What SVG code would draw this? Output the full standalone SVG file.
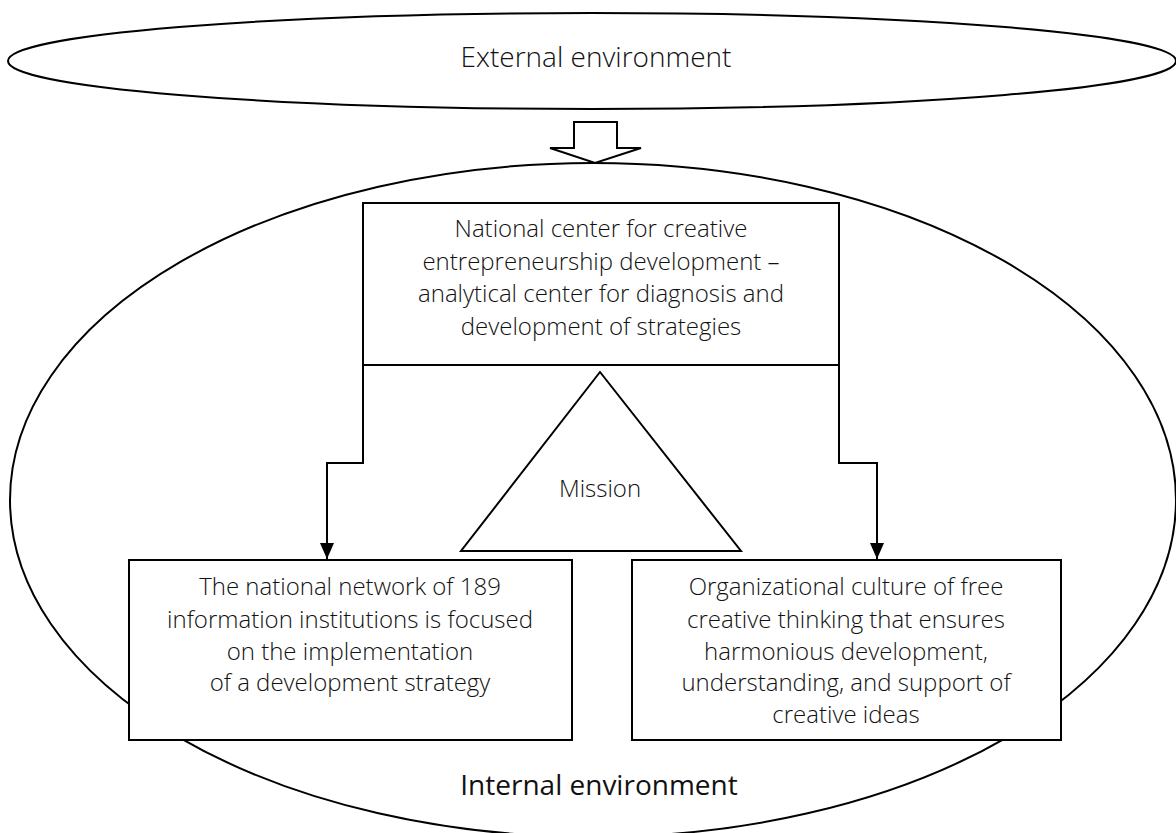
<svg xmlns="http://www.w3.org/2000/svg" width="1176" height="833" viewBox="0 0 1176 833">
<defs>
<style>
.ln{fill:none;stroke:#000;stroke-width:2}
.bx{fill:#fff;stroke:#000;stroke-width:2}
.t{font-family:"Open Sans","Liberation Sans",sans-serif;font-weight:300;font-size:24px;fill:#111;text-anchor:middle}
.big{font-size:28px}
.reg{font-weight:400}
</style>
<marker id="ah" viewBox="0 0 16 14" refX="16" refY="7" markerWidth="16" markerHeight="14" markerUnits="userSpaceOnUse" orient="auto">
<path d="M0,0 L16,7 L0,14 Z" fill="#000"/>
</marker>
</defs>
<rect width="1176" height="833" fill="#fff"/>
<g id="external">
<ellipse class="ln" cx="592" cy="61" rx="584" ry="48"/>
<text class="t big" x="596" y="67">External environment</text>
</g>
<g id="block-arrow">
<path class="bx" d="M574,122 L617,122 L617,148 L641,148 L595,163 L550,148 L574,148 Z"/>
</g>
<g id="internal">
<ellipse class="ln" cx="593" cy="500" rx="583" ry="337"/>
<text class="t big reg" x="599" y="795">Internal environment</text>
</g>
<g id="connectors">
<path class="ln" d="M363,365 V463 H327 V559" marker-end="url(#ah)"/>
<path class="ln" d="M839,365 V463 H877 V559" marker-end="url(#ah)"/>
</g>
<g id="center">
<rect class="bx" x="363" y="203" width="476" height="162"/>
<text class="t" x="601" y="237">National center for creative</text>
<text class="t" x="601" y="270">entrepreneurship development –</text>
<text class="t" x="601" y="302">analytical center for diagnosis and</text>
<text class="t" x="601" y="335">development of strategies</text>
</g>
<g id="mission">
<path class="ln" d="M600,372 L741,551 L461,551 Z"/>
<text class="t" x="600" y="497">Mission</text>
</g>
<g id="network">
<rect class="bx" x="129" y="560" width="443" height="180"/>
<text class="t" x="350" y="595">The national network of 189</text>
<text class="t" x="350" y="628">information institutions is focused</text>
<text class="t" x="350" y="660">on the implementation</text>
<text class="t" x="350" y="691">of a development strategy</text>
</g>
<g id="culture">
<rect class="bx" x="632" y="560" width="429" height="180"/>
<text class="t" x="846" y="595">Organizational culture of free</text>
<text class="t" x="846" y="628">creative thinking that ensures</text>
<text class="t" x="846" y="660">harmonious development,</text>
<text class="t" x="846" y="691">understanding, and support of</text>
<text class="t" x="846" y="723">creative ideas</text>
</g>
</svg>
